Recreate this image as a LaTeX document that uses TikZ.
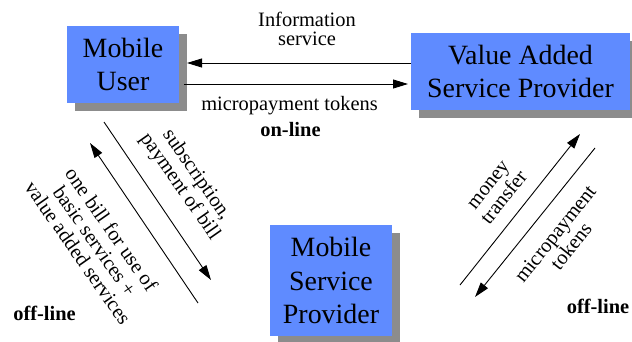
\documentclass[tikz,border=0pt]{standalone}
\usepackage{fontspec}
\setmainfont{Liberation Serif}
\usetikzlibrary{arrows.meta,shadows}
\definecolor{boxblue}{RGB}{95,139,255}
\definecolor{shadowgray}{RGB}{140,140,140}
\begin{document}
\begin{tikzpicture}[x=1bp,y=-1bp,
  box/.style={fill=boxblue, align=center, inner sep=0pt,
    font=\fontsize{28}{34}\selectfont,
    drop shadow={shadow xshift=7.5bp, shadow yshift=-7.5bp, fill=shadowgray, opacity=1}},
  lbl/.style={align=center, inner sep=0pt, font=\fontsize{20.5}{20.5}\selectfont},
  arr/.style={line width=0.9bp, -{Triangle[length=15bp,width=9bp]}}]
\useasboundingbox (0,0) rectangle (632,341);
% boxes
\node[box, minimum width=112bp, minimum height=77bp] (mu) at (123,64.5) {Mobile\\User};
\node[box, minimum width=219bp, minimum height=77bp] (vasp) at (520.5,71.5) {Value Added\\Service Provider};
\node[box, minimum width=122bp, minimum height=111bp] (msp) at (331,280.5) {Mobile\\Service\\Provider};
% top labels
\node[lbl, font=\fontsize{20.5}{18.3}\selectfont] (info) at (307,29) {Information\\service};
\node[lbl] (mtop) at (289.5,106) {micropayment tokens};
\node[lbl, font=\fontsize{20.5}{20.5}\selectfont\bfseries] (online) at (290.5,130) {on-line};
% rotated labels
\node[lbl, rotate=-55] (subs) at (188,181) {subscription,\\payment of bill};
\node[lbl, rotate=-55] (bill) at (95,241) {one bill for use of\\basic services +\\value added services};
\node[lbl, rotate=51.5] (money) at (497,192) {money\\transfer};
\node[lbl, rotate=51.5] (mtok) at (563,240) {micropayment\\tokens};
% off-line labels
\node[lbl, font=\fontsize{20.5}{20.5}\selectfont\bfseries] (offl) at (44.5,313) {off-line};
\node[lbl, font=\fontsize{20.5}{20.5}\selectfont\bfseries] (offr) at (598,306.5) {off-line};
% arrow end points
\coordinate (t1s) at (411,63);
\coordinate (t1e) at (187,63);
\coordinate (t2s) at (184,84);
\coordinate (t2e) at (408,84);
\coordinate (l1s) at (104,122);
\coordinate (l1e) at (211,280);
\coordinate (l2s) at (198,303);
\coordinate (l2e) at (90,143);
\coordinate (r1s) at (460,285);
\coordinate (r1e) at (580,134);
\coordinate (r2s) at (595,148);
\coordinate (r2e) at (475,297);
% arrows
\draw[arr] (t1s) -- (t1e);
\draw[arr] (t2s) -- (t2e);
\draw[arr] (l1s) -- (l1e);
\draw[arr] (l2s) -- (l2e);
\draw[arr] (r1s) -- (r1e);
\draw[arr] (r2s) -- (r2e);
\end{tikzpicture}
\end{document}
